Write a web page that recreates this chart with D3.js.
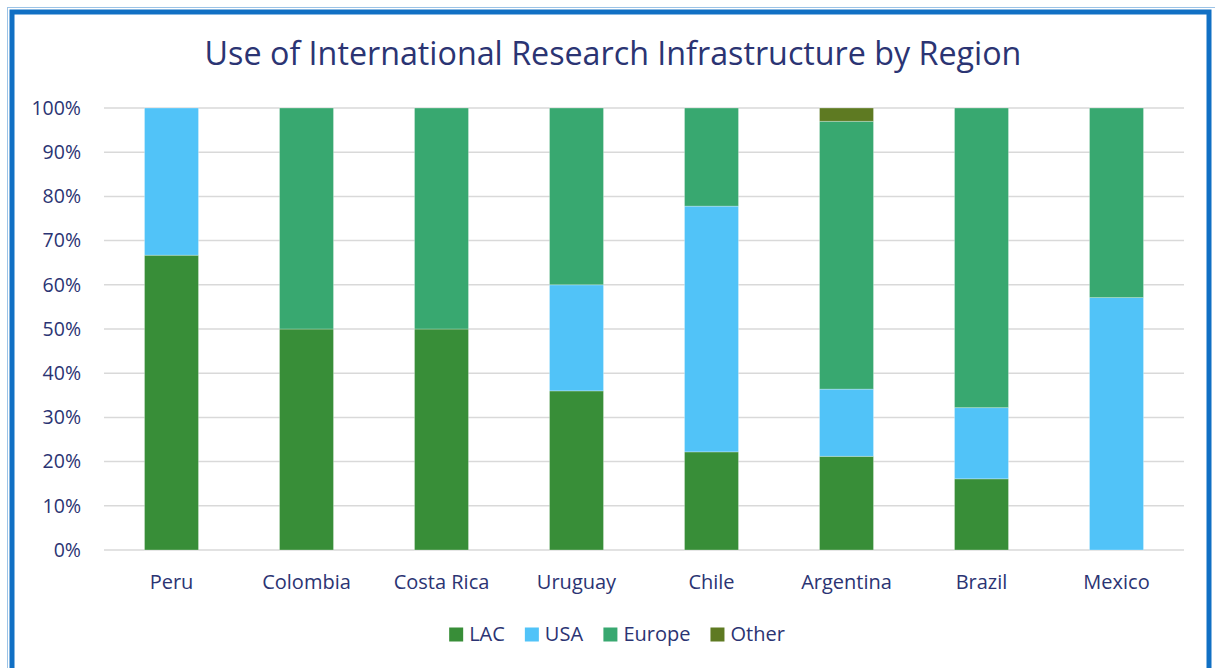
<!DOCTYPE html>
<html><head><meta charset="utf-8">
<script src="https://cdn.jsdelivr.net/npm/d3@7"></script>
<style>
html,body{margin:0;padding:0;background:#fff;}
svg{display:block;}
text{font-family:"Open Sans","Noto Sans",sans-serif;fill:#2B3473;}
</style></head>
<body><svg id="c" width="1215" height="668"></svg>
<script>
const categories = ["Peru","Colombia","Costa Rica","Uruguay","Chile","Argentina","Brazil","Mexico"];
const seriesNames = ["LAC","USA","Europe","Other"];
const LAC    = [66.7, 50, 50, 36, 22.2, 21.2, 16.1, 0];
const USA    = [33.3, 0, 0, 24, 55.6, 15.2, 16.1, 57.1];
const Europe = [0, 50, 50, 40, 22.2, 60.6, 67.8, 42.9];
const Other  = [0, 0, 0, 0, 0, 3.0, 0, 0];
const yTicks = [0,10,20,30,40,50,60,70,80,90,100];
const colors = ["#388E38","#51C3F8","#38A870","#5E7A22"];
const title = "Use of International Research Infrastructure by Region";
const FONT = '"Open Sans","Noto Sans",sans-serif';

const svg = d3.select("#c");
// border
svg.append("rect").attr("x",7.5).attr("y",7.5).attr("width",1215).attr("height",668)
  .attr("fill","none").attr("stroke","#9CC3E6").attr("stroke-width",1);
svg.append("rect").attr("x",12).attr("y",12).attr("width",1197).attr("height",668)
  .attr("fill","none").attr("stroke","#1170C4").attr("stroke-width",5);

const m = {left:104, right:1184, top:108, bottom:550};
const x = d3.scaleBand().domain(categories).range([m.left,m.right]).paddingInner(0.6).paddingOuter(0.3);
const y = d3.scaleLinear().domain([0,100]).range([m.bottom,m.top]);

// grid
svg.append("g").selectAll("line").data(yTicks).join("line")
  .attr("x1",m.left).attr("x2",m.right)
  .attr("y1",d=>y(d)).attr("y2",d=>y(d))
  .attr("stroke","#D9D9D9").attr("stroke-width",1.5);

// y labels
const yAxis = d3.axisLeft(y).tickValues(yTicks).tickFormat(d=>d+"%").tickSize(0).tickPadding(0);
const yg = svg.append("g").attr("transform",`translate(${m.left-23},0)`).call(yAxis);
yg.select(".domain").remove();
yg.selectAll("text").style("font-size","19.5px").attr("fill","#2B3473").style("font-family",FONT);

// x labels
const xAxis = d3.axisBottom(x).tickSize(0).tickPadding(0);
const xg = svg.append("g").attr("transform",`translate(0,${m.bottom+25})`).call(xAxis);
xg.select(".domain").remove();
xg.selectAll("text").style("font-size","20px").attr("fill","#2B3473").style("font-family",FONT);

// stacked data
const rows = categories.map((c,i)=>({cat:c, LAC:LAC[i], USA:USA[i], Europe:Europe[i], Other:Other[i]}));
const stack = d3.stack().keys(seriesNames)(rows);
svg.append("g").selectAll("g").data(stack).join("g")
  .attr("fill",(d,i)=>colors[i])
  .selectAll("rect").data(d=>d.filter(p=>p[1]-p[0]>0)).join("rect")
  .attr("x",d=>x(d.data.cat)).attr("width",x.bandwidth())
  .attr("y",d=>y(d[1])).attr("height",d=>y(d[0])-y(d[1]))
  .attr("stroke","#ffffff").attr("stroke-opacity",0.35).attr("stroke-width",0.8);

// title
const t = svg.append("text").attr("x",613).attr("y",65).attr("text-anchor","middle")
  .style("font-size","31px").text(title);
const tw = t.node().getComputedTextLength();
t.style("font-size",(31*817/tw).toFixed(2)+"px");

// legend
const lg = svg.append("g");
const items = lg.selectAll("g").data(seriesNames).join("g");
items.append("rect").attr("width",14).attr("height",14).attr("y",-13.5).attr("fill",(d,i)=>colors[i]);
items.append("text").attr("x",20).attr("y",0).style("font-size","20px").text(d=>d);
let cx = 0;
items.each(function(){
  d3.select(this).attr("transform",`translate(${cx},0)`);
  cx += this.getBBox().width + 20;
});
const total = cx - 20;
lg.attr("transform",`translate(${617 - total/2},641)`);
</script></body></html>
